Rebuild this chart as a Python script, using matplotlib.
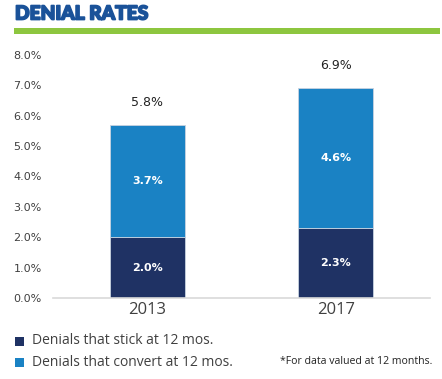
import matplotlib
matplotlib.use('Agg')
import matplotlib.pyplot as plt
import matplotlib.patheffects as pe
import numpy as np
from matplotlib.patches import Rectangle

# data (percent)
years = ['2013', '2017']
stick = [2.0, 2.3]
convert = [3.7, 4.6]
totals = [5.8, 6.9]
yticks = [0, 1, 2, 3, 4, 5, 6, 7, 8]

dark = '#1f3264'
light = '#1a82c4'
grey = '#404040'

fig = plt.figure(figsize=(4.42, 3.79), dpi=100)

# title + green rule
fig.text(15/442, 1 - 14/379, 'DENIAL RATES', fontsize=13.8, fontweight='black',
         family='Lato', color='#1a5299', va='center', ha='left',
         path_effects=[pe.withStroke(linewidth=1.3, foreground='#1a5299')])
fig.add_artist(Rectangle((14/442, 1 - 34/379), 426/442, 6/379,
                         transform=fig.transFigure, color='#8dc63f', lw=0))

ax = fig.add_axes([53/442, 81/379, 377/442, 243/379])
x = np.arange(len(years))
ax.bar(x, stick, width=0.4, color=dark, edgecolor='#c8d3e0', linewidth=0.6)
ax.bar(x, convert, width=0.4, bottom=stick, color=light, edgecolor='#c8d3e0', linewidth=0.6)

for i in range(len(years)):
    ax.text(x[i], stick[i] / 2, '%.1f%%' % stick[i], ha='center', va='center',
            color='white', fontweight='bold', fontsize=8, family='DejaVu Sans')
    ax.text(x[i], stick[i] + convert[i] / 2, '%.1f%%' % convert[i], ha='center',
            va='center', color='white', fontweight='bold', fontsize=8, family='DejaVu Sans')
    ax.text(x[i], stick[i] + convert[i] + 0.75, '%.1f%%' % totals[i], ha='center',
            va='center', color='#222222', fontsize=9, family='DejaVu Sans')

ax.set_xlim(-0.5, 1.5)
ax.set_ylim(0, 8)
ax.set_yticks(yticks)
ax.set_yticklabels(['%.1f%%' % v for v in yticks], fontsize=8, color=grey, family='DejaVu Sans')
ax.set_xticks(x)
ax.set_xticklabels(years, fontsize=12, color=grey, family='Open Sans')
ax.tick_params(axis='both', length=0)
ax.tick_params(axis='y', pad=8)
ax.tick_params(axis='x', pad=3)
for s in ['top', 'right', 'left']:
    ax.spines[s].set_visible(False)
ax.spines['bottom'].set_color('#d9d9d9')
ax.spines['bottom'].set_linewidth(1.2)

# legend
leg_items = [('Denials that stick at 12 mos.', dark), ('Denials that convert at 12 mos.', light)]
for k, (lab, col) in enumerate(leg_items):
    yy = 1 - (341 + 21 * k) / 379
    fig.add_artist(Rectangle((15/442, yy - 4.5/379), 9/442, 9/379,
                             transform=fig.transFigure, color=col, lw=0))
    fig.text(32/442, yy, lab, fontsize=10, color=grey, family='Open Sans', va='center')

fig.text(432/442, 1 - 362/379, '*For data valued at 12 months.', fontsize=7.6,
         color='#222222', family='Open Sans', ha='right', va='center')

fig.savefig('out.png', dpi=100)
